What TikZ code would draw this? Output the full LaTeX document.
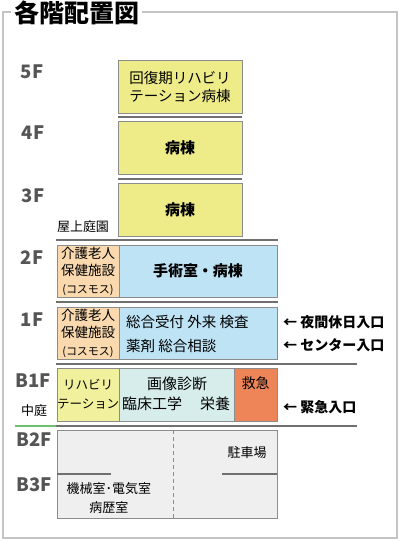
\documentclass[tikz,border=0pt]{standalone}
\usepackage{fontspec}
\setmainfont{Noto Sans CJK JP}
\definecolor{cyel}{HTML}{EDEC88}
\definecolor{cyel2}{HTML}{F1F09C}
\definecolor{cblue}{HTML}{BEE3F5}
\definecolor{cpeach}{HTML}{FAD9AE}
\definecolor{cteal}{HTML}{D6EDEB}
\definecolor{corange}{HTML}{EE8558}
\definecolor{cpark}{HTML}{EFEFEF}
\definecolor{cframe}{HTML}{C4C4C4}
\definecolor{cline}{HTML}{707070}
\definecolor{cedge}{HTML}{8C8C8C}
\definecolor{cfloor}{HTML}{555555}
\definecolor{cgreen}{HTML}{6DBE6D}
\tikzset{
  room/.style={draw=cedge, line width=0.8pt, inner sep=0pt, outer sep=0pt, anchor=north west, align=center, text=black},
  floorlbl/.style={text=cfloor, font=\fontsize{18.5}{18.5}\selectfont\bfseries, inner sep=0pt},
  sep/.style={draw=cline, line width=2pt},
  small/.style={font=\fontsize{13}{17.5}\selectfont, inner sep=0pt},
  entry/.style={font=\fontsize{14}{14}\selectfont\bfseries, inner sep=0pt, anchor=west},
}
\begin{document}
\begin{tikzpicture}[x=1pt,y=-1pt]
\useasboundingbox (0,0) rectangle (400,542);
\fill[white] (0,0) rectangle (400,542);
% frame
\draw[cframe, line width=2.2pt] (3,12) rectangle (397,538);
\node[fill=white, inner sep=3pt, anchor=west, font=\fontsize{25}{25}\selectfont\bfseries] (title) at (11,12.5) {各階配置図};

% floor labels
\node[floorlbl] (l5) at (32,72) {5F};
\node[floorlbl] (l4) at (33,133) {4F};
\node[floorlbl] (l3) at (33,196) {3F};
\node[floorlbl] (l2) at (32,258) {2F};
\node[floorlbl] (l1) at (32,320) {1F};
\node[floorlbl] (lb1) at (33,381) {B1F};
\node[floorlbl] (lb2) at (34,440) {B2F};
\node[floorlbl] (lb3) at (34,485) {B3F};
\node[small] (garden) at (34,411) {中庭};
\node[small] (roof) at (83,227) {屋上庭園};

% 5F
\node[room, fill=cyel, minimum width=124pt, minimum height=53pt, font=\fontsize{14.5}{18}\selectfont] (f5) at (118,60) {回復期リハビリ\\テーション病棟};
\draw[sep] (118,117) -- (242,117);
% 4F
\node[room, fill=cyel, minimum width=124pt, minimum height=53pt, font=\fontsize{15}{15}\selectfont\bfseries] (f4) at (118,121) {病棟};
\draw[sep] (118,179) -- (242,179);
% 3F
\node[room, fill=cyel, minimum width=124pt, minimum height=53pt, font=\fontsize{15}{15}\selectfont\bfseries] (f3) at (118,183) {病棟};
\draw[sep] (56,240) -- (278,240);
% 2F
\node[room, fill=cpeach, minimum width=62pt, minimum height=52pt, font=\fontsize{13.5}{17.5}\selectfont] (f2a) at (57,245) {介護老人\\保健施設\\{\fontsize{11}{11}\selectfont (コスモス)}};
\node[room, fill=cblue, minimum width=158pt, minimum height=52pt, font=\fontsize{15}{15}\selectfont\bfseries] (f2b) at (119,245) {手術室・病棟};
\draw[sep] (56,302) -- (278,302);
% 1F
\node[room, fill=cpeach, minimum width=62pt, minimum height=52pt, font=\fontsize{13.5}{17.5}\selectfont] (f1a) at (57,307) {介護老人\\保健施設\\{\fontsize{11}{11}\selectfont (コスモス)}};
\node[room, fill=cblue, minimum width=158pt, minimum height=52pt] (f1b) at (119,307) {};
\node[anchor=west, inner sep=0pt, align=left, font=\fontsize{14.5}{24}\selectfont] (f1t) at (126,333.5) {総合受付 外来 検査\\薬剤 総合相談};
\draw[sep] (56,364) -- (357,364);
\node[entry] (e1) at (283,322) {← 夜間休日入口};
\node[entry] (e2) at (283,345) {← センター入口};
% B1F
\node[room, fill=cyel2, minimum width=62pt, minimum height=53pt, font=\fontsize{12.5}{19}\selectfont] (b1a) at (57,368) {リハビリ\\テーション};
\node[room, fill=cteal, minimum width=115pt, minimum height=53pt] (b1b) at (119,368) {};
\node[inner sep=0pt, font=\fontsize{15}{15}\selectfont] (b1t1) at (177,384) {画像診断};
\node[inner sep=0pt, font=\fontsize{15}{15}\selectfont] (b1t2) at (152,404) {臨床工学};
\node[inner sep=0pt, font=\fontsize{15}{15}\selectfont] (b1t3) at (215,404) {栄養};
\node[room, fill=corange, minimum width=43pt, minimum height=53pt] (b1c) at (234,368) {};
\node[inner sep=0pt, font=\fontsize{14}{14}\selectfont] (b1ct) at (255.5,383) {救急};
\draw[sep, line width=1.5pt] (56,426) -- (357,426);
\draw[cgreen, line width=1.5pt] (15,426) -- (56,426);
\node[entry] (e3) at (283,407) {← 緊急入口};
% B2F/B3F
\node[room, fill=cpark, minimum width=220pt, minimum height=88pt] (b2) at (57,430) {};
\coordinate (dtop) at (173,430);
\coordinate (dbot) at (173,518);
\draw[cedge, line width=0.8pt, dash pattern=on 4pt off 3pt] (dtop) -- (dbot);
\coordinate (s1a) at (57,474);
\coordinate (s1b) at (111,474);
\coordinate (s2a) at (222,474);
\coordinate (s2b) at (277,474);
\draw[cline, line width=1.2pt] (s1a) -- (s1b);
\draw[cline, line width=1.2pt] (s2a) -- (s2b);
\node[inner sep=0pt, font=\fontsize{13}{13}\selectfont] (park) at (247,453) {駐車場};
\node[inner sep=0pt, align=center, font=\fontsize{13}{19}\selectfont] (mech) at (109,498.5) {機械室･電気室\\病歴室};
\end{tikzpicture}
\end{document}
